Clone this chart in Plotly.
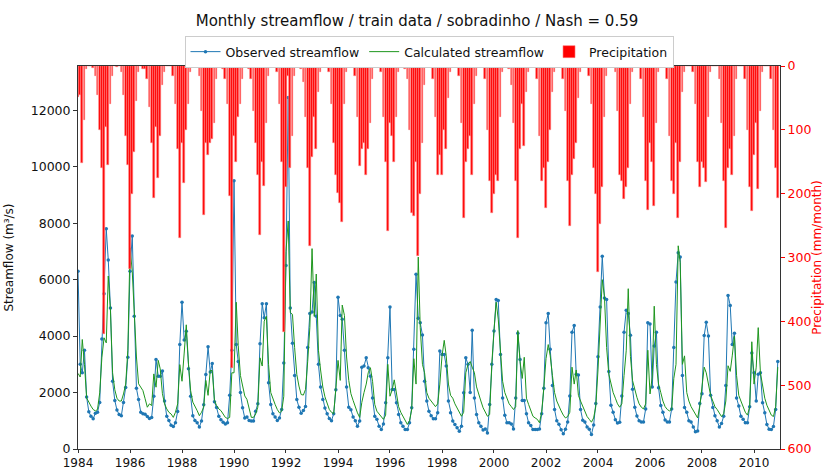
import pandas as pd
import plotly.graph_objects as go

months = pd.date_range("1984-01-01", periods=324, freq="MS")

# Observed monthly streamflow (m3/s), Jan..Dec per year 1984-2010
observed = [
    6300, 3000, 2700, 3500, 1840, 1320, 1160, 1070, 1270, 1300, 1650, 3900,
    5500, 7800, 6700, 5000, 2400, 1720, 1380, 1220, 1180, 1650, 2180, 3250,
    6300, 7550, 4700, 2150, 1750, 1300, 1250, 1230, 1150, 1080, 1120, 1870,
    3170, 2580, 2580, 2760, 1700, 1160, 1010, 840, 800, 930, 1330, 3700,
    5200, 3860, 4170, 2840, 1870, 1180, 1010, 930, 780, 990, 1570, 2640,
    3620, 2730, 3030, 1670, 1470, 1160, 1040, 950, 890, 930, 1900, 3500,
    9500, 3700, 3100, 2000, 1460, 1100, 1130, 1010, 990, 990, 1340, 1600,
    3730, 5150, 4650, 5150, 2350, 1580, 1250, 1130, 1010, 1100, 1400, 3050,
    6500, 12450, 5000, 3750, 2600, 1750, 1480, 1270, 1360, 1510, 3600, 4800,
    4850, 5900, 4700, 3000, 2200, 1750, 1450, 1250, 1080, 1000, 1250, 2100,
    5380, 4730, 4600, 3500, 2200, 1480, 1390, 1130, 1000, 810, 990, 2900,
    2940, 3230, 2880, 2580, 1810, 1160, 1050, 810, 690, 890, 1640, 3230,
    5030, 2110, 2110, 1640, 1220, 930, 810, 690, 690, 930, 1460, 3530,
    6190, 4630, 4470, 4040, 2400, 1700, 1340, 1180, 1070, 1070, 1280, 3470,
    3350, 3350, 2940, 1700, 1280, 990, 870, 750, 630, 810, 1990, 3230,
    3000, 2000, 4210, 1810, 1220, 930, 810, 670, 710, 570, 1580, 3000,
    4180, 5300, 5260, 3350, 1810, 1200, 930, 930, 890, 710, 1810, 4100,
    3170, 1720, 1720, 1250, 930, 830, 690, 690, 690, 710, 1250, 2150,
    4470, 4800, 3530, 2250, 1400, 1000, 880, 680, 540, 700, 960, 1880,
    4140, 4380, 2650, 2620, 1400, 1020, 960, 780, 700, 510, 850, 1610,
    3270, 5030, 6830, 5350, 5300, 2750, 1550, 1300, 1040, 920, 950, 1880,
    4140, 4920, 4800, 4030, 2120, 1480, 1170, 1000, 960, 960, 1420, 4470,
    4430, 2200, 3650, 4140, 2170, 1540, 1300, 1030, 960, 960, 1420, 3600,
    5920, 6950, 6800, 2600, 1470, 1300, 1000, 960, 780, 610, 640, 1610,
    1960, 4020, 4490, 4000, 1900, 1470, 1180, 1000, 780, 900, 1160, 2250,
    5440, 5080, 3700, 4100, 1810, 1520, 1160, 1050, 930, 930, 1500, 3400,
    2700, 1700, 2650, 2700, 1640, 1280, 870, 700, 690, 800, 1400, 3100,
]

# Calculated monthly streamflow (m3/s)
calculated = [
    2680, 2550, 3880, 3000, 1810, 1640, 1520, 1400, 1350, 1400, 1990, 3230,
    3940, 3760, 6130, 4890, 2700, 2100, 1800, 1700, 1700, 1950, 2300, 3500,
    7130, 6300, 4830, 3260, 2310, 2200, 2070, 1780, 1480, 1600, 1540, 2660,
    2190, 3140, 2840, 1960, 1600, 1420, 1300, 1240, 1120, 1300, 1600, 2990,
    2400, 3400, 4400, 3000, 2070, 1660, 1480, 1360, 1180, 1300, 1480, 2430,
    1900, 2780, 2780, 1720, 1540, 1420, 1360, 1240, 1120, 1080, 1120, 2700,
    2700, 5200, 3660, 2600, 2240, 1880, 1760, 1400, 1120, 1120, 1240, 1480,
    3230, 2940, 4530, 4700, 3000, 2000, 1750, 1580, 1400, 1280, 1340, 1870,
    7000, 8080, 4830, 4770, 3590, 2640, 2230, 1930, 1910, 2110, 3110, 4300,
    7100, 4700, 6200, 3500, 2800, 2200, 1850, 1600, 1400, 1300, 1250, 2130,
    3140, 2430, 5100, 4730, 3260, 2430, 1960, 1720, 1480, 1280, 1120, 1650,
    2000, 2300, 2700, 2880, 2400, 1580, 1340, 1250, 1150, 1050, 1200, 3000,
    1870, 2100, 2450, 1900, 1500, 1300, 1160, 990, 870, 1000, 1400, 3200,
    2300, 6800, 4300, 3000, 2700, 2000, 1800, 1700, 1600, 1500, 1600, 2300,
    3300, 3850, 3300, 2300, 1900, 1800, 1600, 1460, 1280, 1160, 1300, 2700,
    3000, 3100, 2900, 2700, 2200, 1900, 1700, 1460, 1280, 1160, 1220, 3000,
    4200, 5200, 4600, 3400, 2400, 2000, 1800, 1600, 1500, 1400, 1500, 4200,
    3100, 2500, 3250, 1800, 1580, 1340, 1160, 1100, 1050, 930, 1300, 2170,
    3200, 3700, 3300, 2600, 2000, 1700, 1500, 1350, 1200, 1100, 1150, 1300,
    2900, 2300, 2800, 1900, 1700, 1500, 1300, 1150, 1050, 950, 1100, 1500,
    2800, 4500, 6000, 5400, 3600, 2650, 2300, 2000, 1800, 1600, 1480, 1600,
    2600, 3500, 5680, 3280, 2420, 2070, 1830, 1600, 1480, 1420, 1600, 3500,
    1950, 2550, 5060, 3000, 2300, 2000, 1700, 1500, 1400, 1350, 1400, 2500,
    3000, 7200, 6600, 3000, 3300, 2000, 1700, 1500, 1350, 1200, 1100, 1500,
    2200, 2900, 2700, 2300, 1900, 1700, 1500, 1400, 1250, 1150, 1250, 1700,
    2950, 2750, 3300, 4000, 2600, 1900, 1700, 1500, 1300, 1200, 1500, 3800,
    2300, 2900, 4300, 2700, 2200, 1800, 1550, 1350, 1200, 1150, 1500, 2900,
]

# Monthly precipitation (mm/month)
precipitation = [
    49, 46, 152, 85, 5, 0, 0, 3, 15, 45, 100, 160,
    420, 95, 155, 60, 15, 0, 2, 0, 10, 45, 110, 155,
    318, 200, 135, 55, 10, 0, 5, 5, 20, 65, 120, 207,
    95, 176, 110, 30, 10, 0, 0, 0, 15, 60, 130, 269,
    120, 183, 100, 60, 10, 0, 0, 0, 15, 70, 233, 120,
    140, 121, 115, 90, 20, 0, 0, 5, 20, 60, 204, 473,
    110, 150, 80, 60, 20, 0, 0, 5, 20, 70, 120, 170,
    264, 150, 188, 90, 15, 0, 0, 0, 10, 60, 150, 416,
    189, 15, 160, 110, 15, 0, 0, 5, 25, 80, 160, 282,
    142, 80, 130, 40, 10, 0, 0, 0, 10, 60, 120, 170,
    199, 214, 245, 60, 10, 0, 0, 0, 15, 80, 157, 130,
    120, 170, 130, 90, 20, 0, 0, 0, 10, 80, 150, 258,
    90, 110, 150, 80, 10, 0, 0, 5, 20, 100, 230, 235,
    150, 297, 200, 120, 30, 0, 0, 0, 20, 80, 170, 140,
    170, 100, 130, 50, 10, 0, 0, 0, 15, 90, 238, 150,
    130, 110, 170, 60, 15, 0, 0, 0, 20, 100, 180, 230,
    200, 170, 180, 80, 10, 0, 0, 5, 30, 90, 180, 269,
    130, 60, 126, 40, 10, 0, 0, 0, 20, 110, 180, 160,
    222, 150, 100, 40, 10, 0, 0, 0, 20, 70, 180, 251,
    170, 145, 120, 50, 10, 0, 0, 0, 15, 60, 160, 200,
    323, 248, 190, 80, 15, 0, 0, 0, 10, 70, 170, 180,
    209, 190, 160, 60, 10, 0, 0, 0, 20, 80, 180, 225,
    120, 150, 220, 90, 10, 0, 0, 0, 20, 110, 180, 200,
    120, 238, 150, 40, 10, 0, 0, 0, 10, 60, 150, 190,
    150, 160, 181, 80, 10, 0, 0, 0, 20, 90, 180, 253,
    160, 130, 170, 110, 20, 0, 0, 0, 20, 100, 190, 227,
    140, 90, 192, 70, 10, 0, 0, 0, 20, 100, 160, 207,
]

y_ticks = [0, 2000, 4000, 6000, 8000, 10000, 12000]
y2_ticks = [0, 100, 200, 300, 400, 500, 600]

FONT = "DejaVu Sans"
AX = "#333333"
TXT = "#111111"

fig = go.Figure()
fig.add_trace(go.Scatter(
    x=months, y=observed, name="Observed streamflow", mode="lines+markers",
    line=dict(color="#1f77b4", width=1), marker=dict(size=3.5, color="#1f77b4"),
))
fig.add_trace(go.Scatter(
    x=months, y=calculated, name="Calculated streamflow", mode="lines",
    line=dict(color="#1e961e", width=1),
))
fig.add_trace(go.Bar(
    x=months, y=precipitation, name="Precipitation", yaxis="y2",
    marker=dict(color="#ff0000", line=dict(width=0.6, color="#ff7a7a")),
    width=24 * 86400000,
))

PLOT_H = 470 - 66 - 21

fig.update_layout(
    template="none",
    width=824, height=470,
    margin=dict(l=78, r=44, t=66, b=21, autoexpand=False),
    paper_bgcolor="white", plot_bgcolor="white",
    font=dict(family=FONT, size=12, color=TXT),
    title=dict(
        text="Monthly streamflow / train data / sobradinho / Nash = 0.59",
        x=417 / 824, xref="container", xanchor="center",
        y=1 - 21 / 470, yref="container", yanchor="middle",
        font=dict(family=FONT, size=15, color=TXT),
    ),
    showlegend=True,
    legend=dict(
        orientation="h", x=0.5, xanchor="center", xref="paper",
        y=1 + (66 - 36) / PLOT_H, yref="paper", yanchor="top",
        bordercolor="#cccccc", borderwidth=1, bgcolor="white",
        font=dict(family=FONT, size=12.5, color=TXT),
        traceorder="normal", itemwidth=30,
    ),
    bargap=0,
    xaxis=dict(
        type="date", range=["1984-01-01", "2011-01-01"],
        tick0="1984-01-01", dtick="M24", tickformat="%Y",
        showgrid=False, zeroline=False, showline=True, linecolor=AX, linewidth=1,
        mirror=True, ticks="outside", ticklen=3, tickcolor=AX,
        tickfont=dict(family=FONT, size=12, color=TXT),
        automargin=False,
    ),
    yaxis=dict(
        range=[0, 13570], tickvals=y_ticks, tickformat="d",
        showgrid=False, zeroline=False, showline=True, linecolor=AX, linewidth=1,
        ticks="outside", ticklen=4, tickcolor=AX,
        tickfont=dict(family=FONT, size=12.5, color=TXT),
        title=dict(text="Streamflow (m³/s)", standoff=14,
                   font=dict(family=FONT, size=12, color=TXT)),
        automargin=False,
    ),
    yaxis2=dict(
        overlaying="y", side="right", range=[600, 0], tickvals=y2_ticks,
        tickformat="d",
        showgrid=False, zeroline=False, showline=True, linecolor=AX, linewidth=1,
        ticks="outside", ticklen=4, tickcolor="red",
        tickfont=dict(family=FONT, size=12.5, color="red"),
        title=dict(text="Precipitation (mm/month)", standoff=8,
                   font=dict(family=FONT, size=12, color="red")),
        automargin=False,
    ),
)

fig.write_html("out.html")
